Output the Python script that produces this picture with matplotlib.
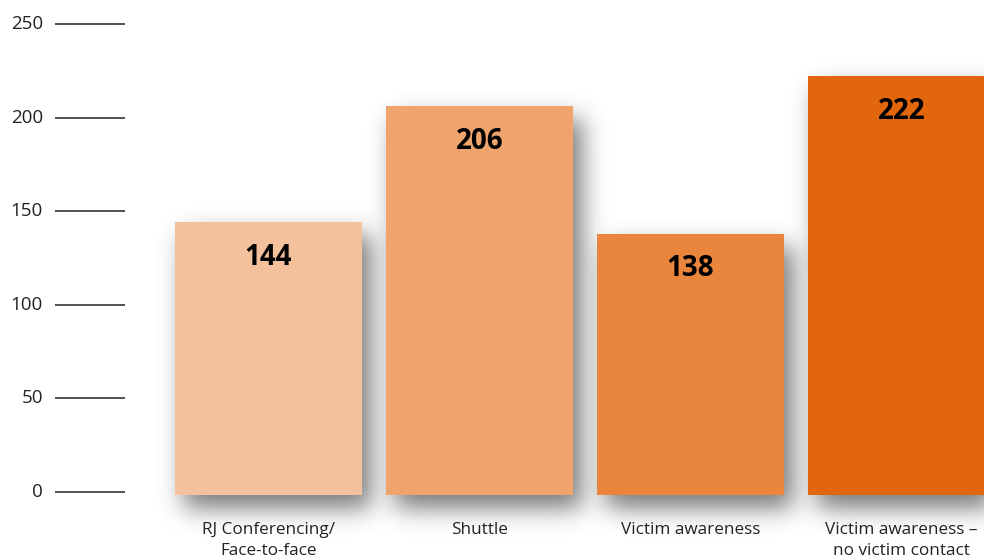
import matplotlib
matplotlib.use('Agg')
import matplotlib.pyplot as plt
import numpy as np

# Dados do gráfico
categorias = ['RJ Conferencing/\nFace-to-face', 'Shuttle', 'Victim awareness',
              'Victim awareness –\nno victim contact']
valores = [144, 206, 138, 222]
cores = ['#F3C29D', '#EEA46C', '#E9853C', '#E2660C']
yticks = [0, 50, 100, 150, 200, 250]


def sombra(im, dpi, sigma=12, ox=9, oy=13, pad=60):
    # sombra desfocada (gaussiana) deslocada para baixo/direita
    a = np.pad(im[:, :, 3], pad)
    r = int(3 * sigma)
    k = np.exp(-0.5 * (np.arange(-r, r + 1) / sigma) ** 2)
    k /= k.sum()
    for eixo in (0, 1):
        b = np.zeros_like(a)
        for i, w in zip(range(-r, r + 1), k):
            b += w * np.roll(a, i, axis=eixo)
        a = b
    a = np.roll(np.roll(a, ox, axis=1), oy, axis=0)
    out = np.zeros(a.shape + (4,))
    out[:, :, :3] = 0.3
    out[:, :, 3] = np.clip(a * 0.75, 0, 1)
    return out, -pad, -pad


W, H = 984, 560
fig = plt.figure(figsize=(W / 100, H / 100), dpi=100)
esq = 55
ax = fig.add_axes([esq / W, 0, 1 - esq / W, 1])

px_un = 468 / 250  # pixels por unidade
y0 = 492
ax.set_ylim(-(H - y0) / px_un, y0 / px_un)
passo = 211
c0 = 268.5
ax.set_xlim((esq - c0) / passo, (W - c0) / passo)

x = np.arange(len(valores))
largura = 187 / passo
base = -1.6

sb = ax.bar(x, np.array(valores) - base, largura, bottom=base, color='k', zorder=1)
for p in sb:
    p.set_agg_filter(sombra)
    p.set_rasterized(True)
ax.bar(x, np.array(valores) - base, largura, bottom=base, color=cores, zorder=2)

# linhas de referência do eixo y
fim_linha = (125 - c0) / passo
ax.hlines(yticks, ax.get_xlim()[0], fim_linha, color='#333333', lw=1.2, zorder=3)

fonte = ['Open Sans', 'DejaVu Sans']
for xi, v in zip(x, valores):
    ax.text(xi, v - 35 / px_un, str(v), ha='center', va='center',
            fontsize=20, fontweight='bold', color='black', zorder=4, family=fonte)

for xi, c in zip(x, categorias):
    ax.text(xi, (y0 - 522) / px_un, c, ha='center', va='top', fontsize=12.3,
            color='#222222', linespacing=1.45, zorder=4, family=fonte)

for t in yticks:
    fig.text(43 / W, 1 - (y0 - t * px_un) / H, str(t), ha='right', va='center',
             fontsize=13.5, color='#222222', family=fonte)

ax.axis('off')
fig.savefig('out.png', dpi=100)
